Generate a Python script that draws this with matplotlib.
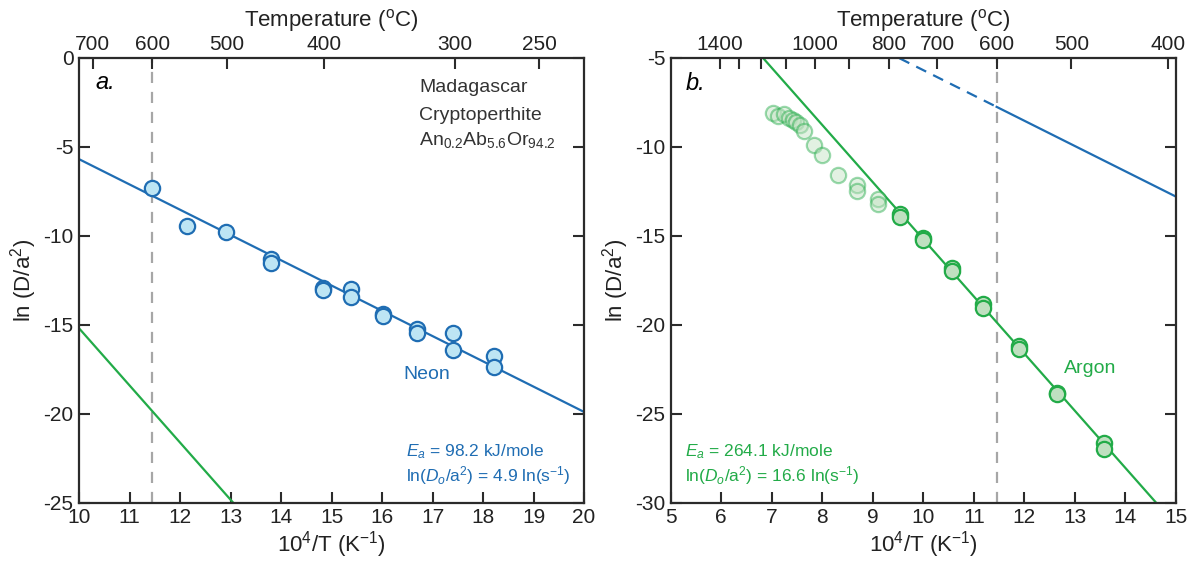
import numpy as np
import matplotlib
matplotlib.use("Agg")
import matplotlib.pyplot as plt

plt.rcParams['font.family'] = ['Liberation Sans', 'DejaVu Sans']
plt.rcParams['mathtext.fontset'] = 'custom'
plt.rcParams['mathtext.rm'] = 'Liberation Sans'
plt.rcParams['mathtext.it'] = 'Liberation Sans:italic'
plt.rcParams['mathtext.bf'] = 'Liberation Sans:bold'
plt.rcParams['axes.unicode_minus'] = False

# ---------------- data ----------------
neon_x = [11.45, 12.14, 12.92, 13.81, 13.81, 14.83, 14.83, 15.39, 15.39,
          16.01, 16.01, 16.69, 16.69, 17.41, 17.41, 18.21, 18.21]
neon_y = [-7.30, -9.43, -9.77, -11.32, -11.51, -12.92, -13.06, -13.00, -13.42,
          -14.42, -14.53, -15.23, -15.45, -15.47, -16.42, -16.74, -17.40]

argon_early_x = [7.03, 7.13, 7.25, 7.35, 7.42, 7.49, 7.56, 7.63, 7.83, 8.00,
                 8.31, 8.69, 8.69, 9.10, 9.10]
argon_early_y = [-8.12, -8.25, -8.16, -8.38, -8.50, -8.63, -8.78, -9.14, -9.89,
                 -10.47, -11.58, -12.16, -12.48, -12.95, -13.20]

argon_x = [9.53, 9.53, 10.00, 10.00, 10.56, 10.56, 11.18, 11.18, 11.89, 11.89,
           12.64, 12.64, 13.57, 13.57]
argon_y = [-13.80, -13.95, -15.11, -15.24, -16.80, -16.99, -18.83, -19.06,
           -21.17, -21.35, -23.82, -23.91, -26.63, -27.00]

# Arrhenius fits drawn on the chart: (intercept, slope) in ln(D/a2) vs 1e4/T
neon_fit = [8.5, -1.42]
argon_fit = [16.9, -3.21]

ref_temp_c = 600
temps_a = [700, 600, 500, 400, 300, 250]
temps_b_major = [1400, 1000, 800, 700, 600, 500, 400]
temps_b_minor = [1300, 1200, 1100, 900]

BLUE = '#1f6db3'
BLUE_FILL = '#bde5f4'
GREEN = '#22ab48'
GREEN_FILL = '#bfe0c0'
GREY = '#a6a6a6'
DARK = '#2b2b2b'


def inv_t(tc):
    return 1e4 / (np.asarray(tc, dtype=float) + 273.15)


fig = plt.figure(figsize=(11.88, 5.65), dpi=100)
ax1 = fig.add_axes([0.0665, 0.1103, 0.4251, 0.7876])
ax2 = fig.add_axes([0.5646, 0.1103, 0.4251, 0.7876])

TICK_FS = 15
LABEL_FS = 16


def style(ax, xlim, ylim, xticks, yticks):
    ax.set_xlim(*xlim)
    ax.set_ylim(*ylim)
    ax.set_xticks(xticks)
    ax.set_yticks(yticks)
    for s in ax.spines.values():
        s.set_linewidth(1.6)
        s.set_color(DARK)
    ax.tick_params(direction='in', length=8, width=1.5, color=DARK,
                   labelsize=TICK_FS, labelcolor='#222222',
                   right=True, top=False, pad=4)
    ax.set_xlabel('10$^4$/T (K$^{\\mathrm{-1}}$)', fontsize=LABEL_FS, color='#222222', labelpad=1)
    ax.set_ylabel('ln (D/a$^2$)', fontsize=LABEL_FS, color='#222222', labelpad=3)


def top_axis(ax, major, minor):
    tw = ax.twiny()
    tw.set_xlim(ax.get_xlim())
    tw.set_xticks(inv_t(major))
    tw.set_xticklabels([str(t) for t in major])
    if minor:
        tw.set_xticks(inv_t(minor), minor=True)
    tw.tick_params(which='both', direction='in', length=8, width=1.5, color=DARK,
                   labelsize=TICK_FS, labelcolor='#222222', pad=3)
    for s in tw.spines.values():
        s.set_visible(False)
    tw.set_xlabel('Temperature ($^{\\mathrm{o}}$C)', fontsize=LABEL_FS,
                  color='#222222', labelpad=6)
    return tw


# ---------------- panel a ----------------
style(ax1, (10, 20), (-25, 0), range(10, 21), [0, -5, -10, -15, -20, -25])
xx = np.linspace(5, 21, 400)
ax1.axvline(inv_t(ref_temp_c), color=GREY, lw=1.6, ls=(0, (5, 4)), zorder=1)
ax1.plot(xx, neon_fit[0] + neon_fit[1] * xx, color=BLUE, lw=1.6, zorder=2)
ax1.plot(xx, argon_fit[0] + argon_fit[1] * xx, color=GREEN, lw=1.6, zorder=2)
ax1.plot(neon_x, neon_y, 'o', ms=11, mfc=BLUE_FILL, mec=BLUE, mew=1.6, zorder=3)
top_axis(ax1, temps_a, [])

ax1.text(10.32, -1.4, 'a.', fontsize=17, style='italic', va='center', ha='left')
ax1.text(16.73, -1.7, 'Madagascar', fontsize=14, va='center', ha='left', color='#333333')
ax1.text(16.73, -3.25, 'Cryptoperthite', fontsize=14, va='center', ha='left', color='#333333')
ax1.text(16.73, -4.6, 'An$_{0.2}$Ab$_{5.6}$Or$_{94.2}$', fontsize=14, va='center',
         ha='left', color='#333333')
ax1.text(16.42, -17.8, 'Neon', fontsize=14, color=BLUE, va='center', ha='left')
ax1.text(16.48, -22.15, '$E_a$ = 98.2 kJ/mole', fontsize=12.5, color=BLUE,
         va='center', ha='left')
ax1.text(16.48, -23.5, 'ln($D_o$/a$^2$) = 4.9 ln(s$^{\\mathrm{-1}}$)', fontsize=12.5,
         color=BLUE, va='center', ha='left')

# ---------------- panel b ----------------
style(ax2, (5, 15), (-30, -5), range(5, 16), [-5, -10, -15, -20, -25, -30])
x_ref = float(inv_t(ref_temp_c))
ax2.axvline(x_ref, color=GREY, lw=1.6, ls=(0, (5, 4)), zorder=1)
xd = np.linspace(5, x_ref, 200)
xs = np.linspace(x_ref, 16, 200)
ax2.plot(xd, neon_fit[0] + neon_fit[1] * xd, color=BLUE, lw=1.6,
         ls=(0, (5, 3.5)), zorder=2)
ax2.plot(xs, neon_fit[0] + neon_fit[1] * xs, color=BLUE, lw=1.6, zorder=2)
ax2.plot(xx, argon_fit[0] + argon_fit[1] * xx, color=GREEN, lw=1.6, zorder=2)
ax2.plot(argon_early_x, argon_early_y, 'o', ms=11, mfc=GREEN_FILL, mec=GREEN,
         mew=1.6, alpha=0.45, zorder=3)
ax2.plot(argon_x, argon_y, 'o', ms=11, mfc=GREEN_FILL, mec=GREEN, mew=1.6, zorder=3)
top_axis(ax2, temps_b_major, temps_b_minor)

ax2.text(5.3, -6.45, 'b.', fontsize=17, style='italic', va='center', ha='left')
ax2.text(12.79, -22.45, 'Argon', fontsize=14, color=GREEN, va='center', ha='left')
ax2.text(5.28, -27.15, '$E_a$ = 264.1 kJ/mole', fontsize=12.5, color=GREEN,
         va='center', ha='left')
ax2.text(5.28, -28.5, 'ln($D_o$/a$^2$) = 16.6 ln(s$^{\\mathrm{-1}}$)', fontsize=12.5,
         color=GREEN, va='center', ha='left')

fig.savefig('out.png', dpi=100)
